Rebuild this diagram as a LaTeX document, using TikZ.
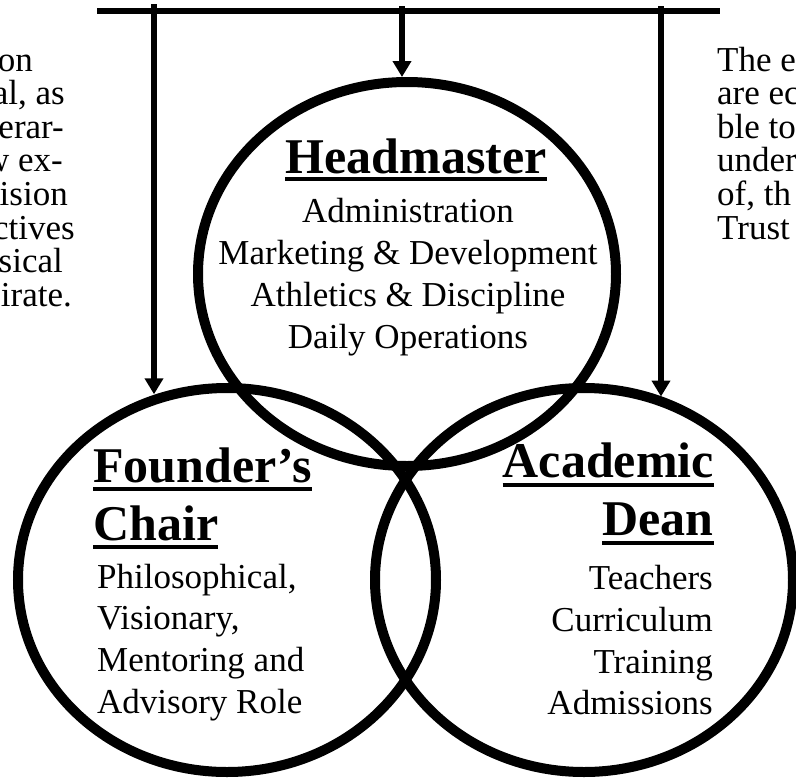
\documentclass[tikz,border=0pt]{standalone}
\usepackage{fontspec}
\usetikzlibrary{shapes.geometric,arrows.meta}
\setmainfont{Liberation Serif}
\begin{document}
\begin{tikzpicture}[x=1pt,y=-1pt,
  ring/.style={ellipse, draw, line width=10pt, minimum width=418pt, minimum height=384pt, inner sep=0pt},
  bar/.style={line width=5.5pt},
  arr/.style={line width=5.5pt, -{Triangle[width=18pt,length=16pt]}},
  head/.style={font=\bfseries\fontsize{50}{58}\selectfont, inner sep=0pt},
  body/.style={font=\fontsize{35}{42}\selectfont, inner sep=0pt},
  side/.style={font=\fontsize{35}{42}\selectfont, inner sep=0pt},
  uline/.style={line width=3.5pt}]
\fill[white] (0,0) rectangle (796,780);
\useasboundingbox (0,0) rectangle (796,780);

% circles
\node[ring] (hm) at (407,274) {};
\node[ring] (fc) at (227,580) {};
\node[ring] (ad) at (584,580) {};

% top bar and arrows
\coordinate (bl) at (97,11);
\coordinate (br) at (720,11);
\draw[bar] (bl) -- (br);
\coordinate (s1) at (154,4);
\coordinate (s2) at (402,6);
\coordinate (s3) at (661,6);
\draw[arr] (s1) -- (s1 |- fc.111.5);
\draw[arr] (s2) -- (s2 |- hm.north);
\draw[arr] (s3) -- (s3 |- ad.67.3);

% Headmaster
\node[head, anchor=base] (hmh) at (416,173) {Headmaster};
\draw[uline] ([yshift=-6pt]hmh.base west) -- ([yshift=-6pt]hmh.base east);
\foreach \t [count=\i] in {Administration, Marketing \& Development, Athletics \& Discipline, Daily Operations}
  \node[body, anchor=base] (hmb\i) at (408,{180+42*\i}) {\t};

% Founder's Chair
\node[head, anchor=base west] (fch1) at (93,482) {Founder’s};
\draw[uline] ([yshift=-7pt]fch1.base west) -- ([yshift=-7pt]fch1.base east);
\node[head, anchor=base west] (fch2) at (93,540) {Chair};
\draw[uline] ([yshift=-7pt]fch2.base west) -- ([yshift=-7pt]fch2.base east);
\foreach \t [count=\i] in {{Philosophical,}, {Visionary,}, Mentoring and, Advisory Role}
  \node[body, anchor=base west] (fcb\i) at (97,{546.3+41.7*\i}) {\t};

% Academic Dean
\node[head, anchor=base east] (adh1) at (714,477) {Academic};
\draw[uline] ([yshift=-8pt]adh1.base west) -- ([yshift=-8pt]adh1.base east);
\node[head, anchor=base east] (adh2) at (714,535) {Dean};
\draw[uline] ([yshift=-8pt]adh2.base west) -- ([yshift=-8pt]adh2.base east);
\foreach \t [count=\i] in {Teachers, Curriculum, Training, Admissions}
  \node[body, anchor=base east] (adb\i) at (713,{548+41.7*\i}) {\t};

% cropped side texts
\foreach \t/\xr [count=\i] in {on/33, {al, as}/65, erar-/64, w ex-/63, ision/68, ctives/75, sical/63, irate./72}
  \node[side, anchor=base east] (lt\i) at (\xr,{37.4+33.6*\i}) {\t};
\foreach \t [count=\i] in {The e, are ec, ble to, under, {of, th}, Trust}
  \node[side, anchor=base west] (rt\i) at (717,{37.4+33.6*\i}) {\t};
\end{tikzpicture}
\end{document}
